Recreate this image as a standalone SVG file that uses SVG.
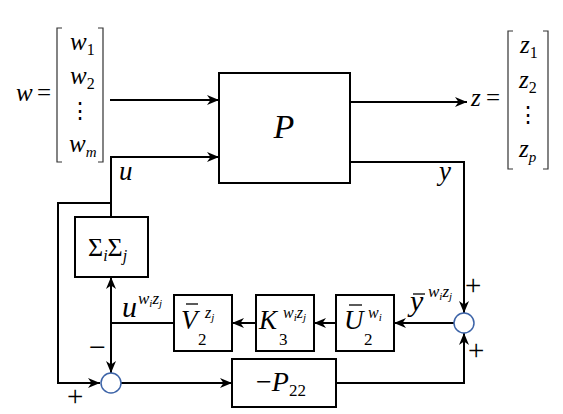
<svg xmlns="http://www.w3.org/2000/svg" width="563" height="414" viewBox="0 0 563 414">
<defs>
<marker id="ah" markerUnits="userSpaceOnUse" markerWidth="14" markerHeight="12" refX="12" refY="5" orient="auto">
<path d="M0,0 L12,5 L0,10 L3.5,5 Z" fill="#000"/>
</marker>
<style>
.box{fill:#fff;stroke:#000;stroke-width:2}
.ln{fill:none;stroke:#000;stroke-width:2}
.sum{fill:#fff;stroke:#3d64a8;stroke-width:1.5}
.br{fill:none;stroke:#333;stroke-width:1.2}
.bar{stroke:#000;stroke-width:1.3}
.m{font-style:italic}
.up{font-style:normal}
</style>
</defs>
<rect width="563" height="414" fill="#fff"/>

<g id="connectors">
<path class="ln" d="M110,100 H219" marker-end="url(#ah)"/>
<path class="ln" d="M111,217 V157 H219" marker-end="url(#ah)"/>
<path class="ln" d="M111,203 H58 V383 H100" marker-end="url(#ah)"/>
<path class="ln" d="M350,102 H467" marker-end="url(#ah)"/>
<path class="ln" d="M350,162 H464 V313" marker-end="url(#ah)"/>
<path class="ln" d="M454,323 H394" marker-end="url(#ah)"/>
<path class="ln" d="M336,323 H314" marker-end="url(#ah)"/>
<path class="ln" d="M256,323 H232" marker-end="url(#ah)"/>
<path class="ln" d="M174,323 H111"/>
<path class="ln" d="M111,323 V277" marker-end="url(#ah)"/>
<path class="ln" d="M111,323 V373" marker-end="url(#ah)"/>
<path class="ln" d="M121,383 H232" marker-end="url(#ah)"/>
<path class="ln" d="M336,383 H464 V333" marker-end="url(#ah)"/>
</g>

<g font-family="Liberation Serif, DejaVu Serif, serif" fill="#000">
<g id="w-vector">
<text x="16" y="101" font-size="25" class="m">w</text>
<text x="37" y="101" font-size="25">=</text>
<path class="br" d="M62,28 H57 V162 H62"/>
<path class="br" d="M98,28 H103 V162 H98"/>
<text x="70" y="50" font-size="25" class="m">w<tspan font-size="16" dy="5" class="up">1</tspan></text>
<text x="70" y="84" font-size="25" class="m">w<tspan font-size="16" dy="5" class="up">2</tspan></text>
<text x="80" y="118" font-size="22" text-anchor="middle">⋮</text>
<text x="69" y="152" font-size="25" class="m">w<tspan font-size="15" dy="5">m</tspan></text>
</g>

<g id="z-vector">
<text x="471" y="106" font-size="25" class="m">z</text>
<text x="486" y="106" font-size="25">=</text>
<path class="br" d="M513,31 H508 V169 H513"/>
<path class="br" d="M543,31 H548 V169 H543"/>
<text x="520" y="53" font-size="25" class="m">z<tspan font-size="16" dy="5" class="up">1</tspan></text>
<text x="519" y="88" font-size="25" class="m">z<tspan font-size="16" dy="5" class="up">2</tspan></text>
<text x="528" y="122" font-size="22" text-anchor="middle">⋮</text>
<text x="519" y="157" font-size="25" class="m">z<tspan font-size="15" dy="5">p</tspan></text>
</g>

<g id="P">
<rect class="box" x="219" y="73" width="131" height="110"/>
<text x="284" y="138" font-size="34" class="m" text-anchor="middle">P</text>
</g>

<g id="labels">
<text x="119" y="180" font-size="27" class="m">u</text>
<text x="439" y="180" font-size="27" class="m">y</text>
<text x="122" y="317" font-size="30" class="m">u</text>
<text x="138" y="304" font-size="17" class="m">w<tspan font-size="11" dy="3">i</tspan><tspan dy="-3">z</tspan><tspan font-size="11" dy="3">j</tspan></text>
<text x="410" y="311" font-size="30" class="m">y</text>
<text x="428" y="297" font-size="17" class="m">w<tspan font-size="11" dy="3">i</tspan><tspan dy="-3">z</tspan><tspan font-size="11" dy="3">j</tspan></text>
<line class="bar" x1="413" y1="294" x2="425" y2="294"/>
<text x="89" y="357" font-size="30">−</text>
<text x="67" y="406" font-size="29">+</text>
<text x="465" y="295" font-size="29">+</text>
<text x="468" y="360" font-size="29">+</text>
</g>

<g id="sigma">
<rect class="box" x="75" y="217" width="73" height="60"/>
<text x="88" y="256" font-size="26" class="up">Σ<tspan font-size="16" dy="5" class="m">i</tspan><tspan dy="-5">Σ</tspan><tspan font-size="16" dy="5" class="m">j</tspan></text>
</g>

<g id="V2">
<rect class="box" x="174" y="295" width="58" height="56"/>
<text x="181" y="329" font-size="27" class="m">V</text>
<text x="205" y="318" font-size="16" class="m">z<tspan font-size="11" dy="3">j</tspan></text>
<text x="198" y="345" font-size="17">2</text>
<line class="bar" x1="186" y1="304" x2="198" y2="304"/>
</g>

<g id="K3">
<rect class="box" x="256" y="295" width="58" height="56"/>
<text x="259" y="329" font-size="27" class="m">K</text>
<text x="283" y="318" font-size="16" class="m">w<tspan font-size="11" dy="3">i</tspan><tspan dy="-3">z</tspan><tspan font-size="11" dy="3">j</tspan></text>
<text x="279" y="345" font-size="17">3</text>
</g>

<g id="U2">
<rect class="box" x="336" y="295" width="58" height="56"/>
<text x="344" y="329" font-size="27" class="m">U</text>
<text x="368" y="318" font-size="16" class="m">w<tspan font-size="11" dy="3">i</tspan></text>
<text x="364" y="345" font-size="17">2</text>
<line class="bar" x1="349" y1="305" x2="362" y2="305"/>
</g>

<g id="P22">
<rect class="box" x="232" y="359" width="104" height="48"/>
<text x="256" y="391" font-size="28" class="m"><tspan class="up">−</tspan>P<tspan font-size="17" dy="5" class="up">22</tspan></text>
</g>
</g>

<g id="sum-left">
<circle class="sum" cx="111" cy="383" r="10"/>
</g>
<g id="sum-right">
<circle class="sum" cx="464" cy="323" r="10"/>
</g>
</svg>
